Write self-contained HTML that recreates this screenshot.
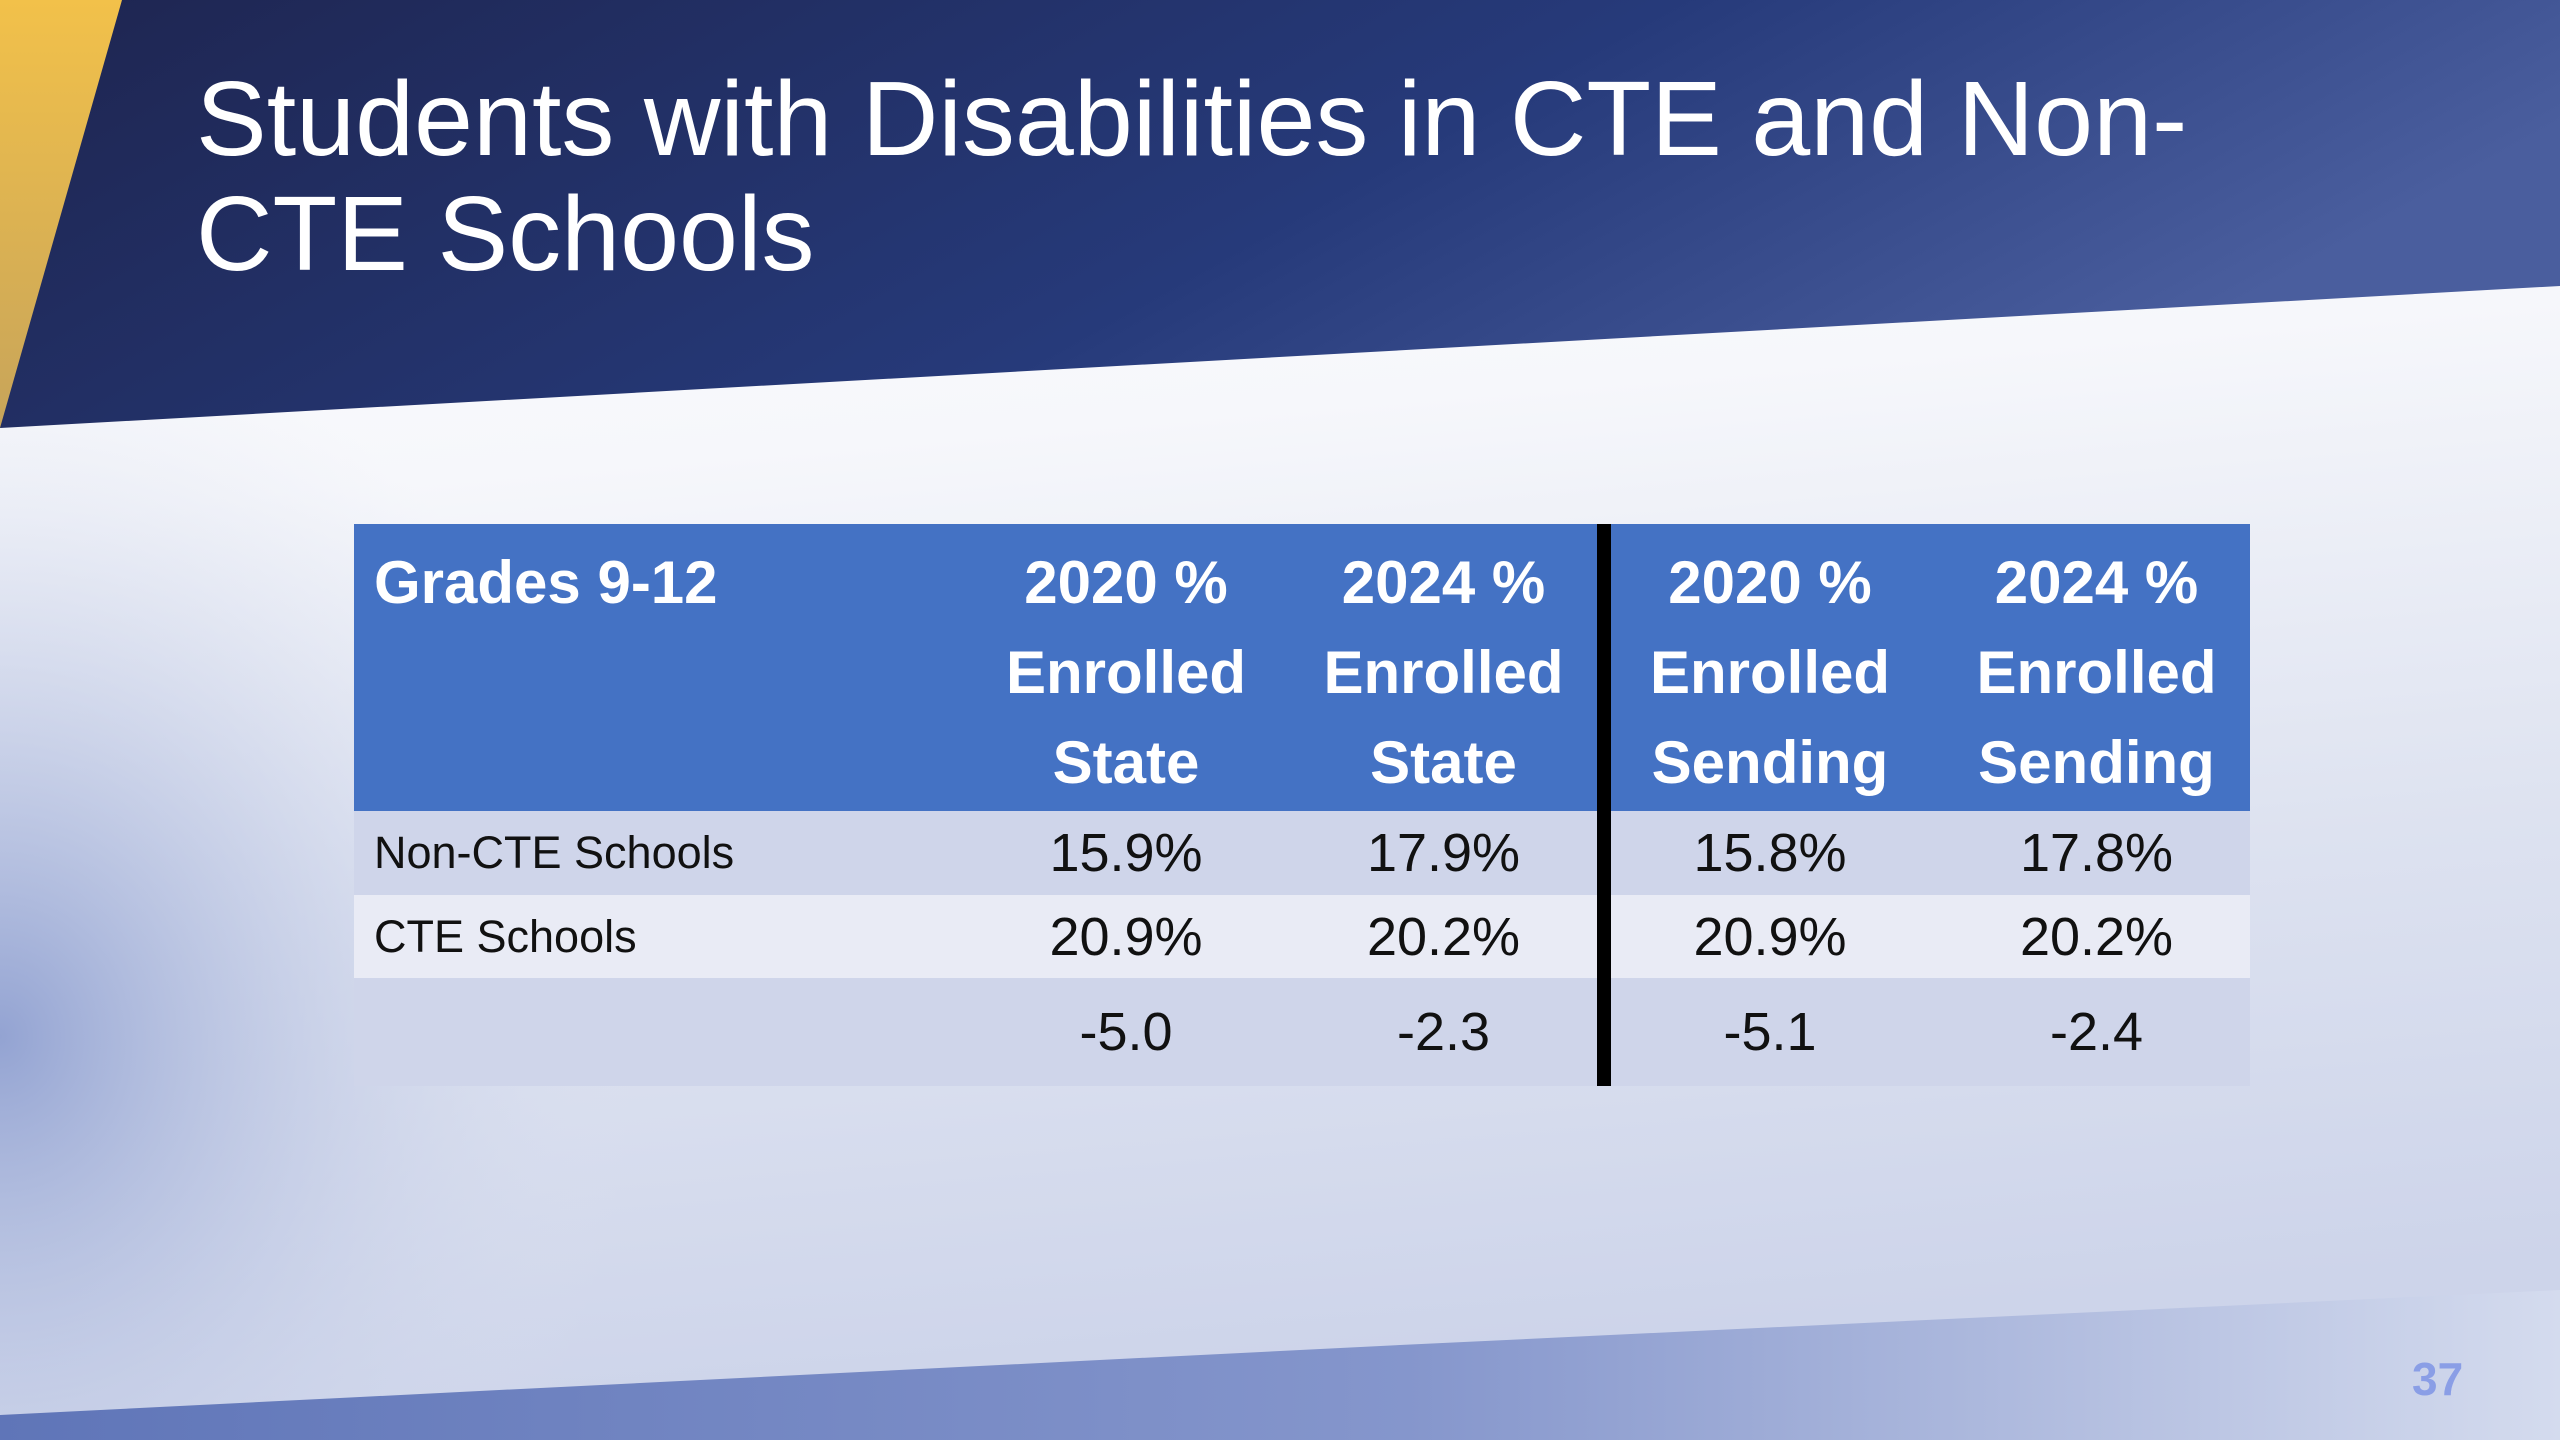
<!DOCTYPE html>
<html><head><meta charset="utf-8"><style>
html,body{margin:0;padding:0;width:2560px;height:1440px;overflow:hidden;font-family:"Liberation Sans",sans-serif}
#bg{position:absolute;left:0;top:0}
#title{position:absolute;left:196px;top:62px;color:#fff;font-size:106px;line-height:115px;white-space:nowrap}
table{position:absolute;left:354px;top:524px;border-collapse:collapse;table-layout:fixed}
td{padding:0;text-align:center;color:#111;font-size:54px}
.h td{background:#4472c4;color:#fff;font-weight:bold;font-size:60px;line-height:90px;vertical-align:top;padding-top:14px;height:287px;box-sizing:border-box}
.r1 td{background:#cfd5ea;height:84px}
.r2 td{background:#e9ebf5;height:83px}
.r3 td{background:#cfd5ea;height:108px}
td.lab{text-align:left;padding-left:20px;font-size:45px}
.h td.lab{font-size:60px}
#divider{position:absolute;left:1597px;top:524px;width:14px;height:562px;background:#000}
#pg{position:absolute;left:2412px;top:1352px;color:#8a9ee6;font-weight:bold;font-size:46px}
</style></head><body>
<svg id="bg" width="2560" height="1440">
<defs>
<linearGradient id="top" x1="0" y1="0" x2="1" y2="0.3"><stop offset="0" stop-color="#1e2550"/><stop offset="0.6" stop-color="#263a7a"/><stop offset="1" stop-color="#4a5e9e"/></linearGradient>
<linearGradient id="mid" x1="0" y1="0" x2="0.15" y2="1"><stop offset="0" stop-color="#ffffff"/><stop offset="0.35" stop-color="#f6f7fb"/><stop offset="0.7" stop-color="#dde2f0"/><stop offset="1" stop-color="#cdd4ea"/></linearGradient>
<radialGradient id="side" cx="0" cy="0.72" r="0.5" gradientTransform="translate(0,0) scale(0.5,1)"><stop offset="0" stop-color="#93a3d2"/><stop offset="1" stop-color="#dfe4f1" stop-opacity="0"/></radialGradient>
<linearGradient id="bot" x1="0" y1="0" x2="1" y2="0"><stop offset="0" stop-color="#5f75b8"/><stop offset="0.55" stop-color="#8596cc"/><stop offset="1" stop-color="#d4dbee"/></linearGradient>
<linearGradient id="gold" x1="0" y1="0" x2="0" y2="1"><stop offset="0" stop-color="#f2c14a"/><stop offset="1" stop-color="#c7a45a"/></linearGradient>
</defs>
<rect width="2560" height="1440" fill="url(#mid)"/>
<rect width="2560" height="1440" fill="url(#side)"/>
<polygon points="0,1415 1400,1345 2560,1290 2560,1440 0,1440" fill="url(#bot)"/>
<polygon points="0,0 2560,0 2560,286 0,428" fill="url(#top)"/>
<polygon points="0,0 122,0 0,428" fill="url(#gold)"/>
</svg>
<div id="title">Students with Disabilities in CTE and Non-<br>CTE Schools</div>
<table>
<colgroup><col style="width:608px"><col style="width:328px"><col style="width:307px"><col style="width:346px"><col style="width:307px"></colgroup>
<tr class="h"><td class="lab">Grades 9-12</td><td>2020 %<br>Enrolled<br>State</td><td>2024 %<br>Enrolled<br>State</td><td>2020 %<br>Enrolled<br>Sending</td><td>2024 %<br>Enrolled<br>Sending</td></tr>
<tr class="r1"><td class="lab">Non-CTE Schools</td><td>15.9%</td><td>17.9%</td><td>15.8%</td><td>17.8%</td></tr>
<tr class="r2"><td class="lab">CTE Schools</td><td>20.9%</td><td>20.2%</td><td>20.9%</td><td>20.2%</td></tr>
<tr class="r3"><td class="lab"></td><td>-5.0</td><td>-2.3</td><td>-5.1</td><td>-2.4</td></tr>
</table>
<div id="divider"></div>
<div id="pg">37</div>
</body></html>
